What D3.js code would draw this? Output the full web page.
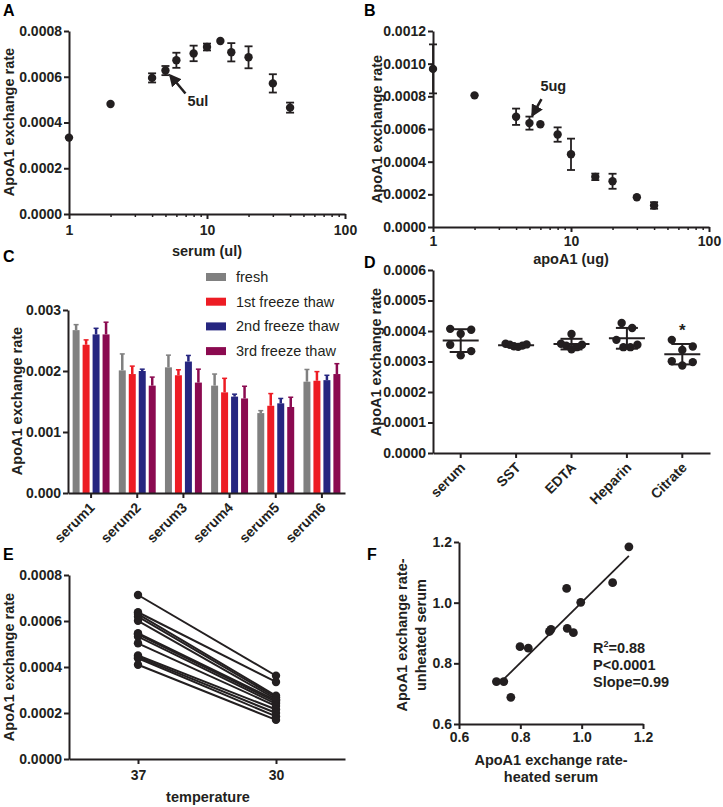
<!DOCTYPE html>
<html>
<head>
<meta charset="utf-8">
<script src="https://cdn.jsdelivr.net/npm/d3@7"></script>
<style>
body { margin: 0; background: #fff; }
svg { display: block; font-family: "Liberation Sans", Arial, sans-serif; }
.axis path, .axis line { stroke: #231f20; stroke-width: 2; }
.axis text { font-size: 14px; font-weight: bold; fill: #231f20; font-family: "Liberation Sans", Arial, sans-serif; }
.minor line { stroke-width: 1.5; }
.title { font-size: 14.5px; font-weight: bold; fill: #231f20; }
.panel { font-size: 16px; font-weight: bold; fill: #000; }
.legend text { font-size: 14.5px; fill: #231f20; }
</style>
</head>
<body>
<svg id="fig" width="723" height="807"></svg>
<script>
// A: serum titration
const aSerum = [1, 2, 4, 5, 6, 8, 10, 12.5, 15, 20, 30, 40];
const aRate  = [0.000334, 0.000481, 0.000595, 0.000627, 0.000672, 0.000702, 0.00073, 0.000756, 0.000707, 0.000685, 0.000571, 0.000465];
const aErr   = [0, 0, 0.00002, 0.00002, 0.000033, 0.000034, 0.000015, 0, 0.00004, 0.000048, 0.00004, 0.000022];

// B: apoA1 titration
const bApoA1 = [1, 2, 4, 5, 6, 8, 10, 15, 20, 30, 40];
const bRate  = [0.000968, 0.000806, 0.000675, 0.000636, 0.000629, 0.000566, 0.000445, 0.000307, 0.00028, 0.000182, 0.000132];
const bErr   = [0.00015, 0, 0.00005, 0.00004, 0, 0.000044, 0.000096, 0.00002, 0.000046, 0, 0.00002];

// C: freeze thaw
const cCategories = ['serum1', 'serum2', 'serum3', 'serum4', 'serum5', 'serum6'];
const cSeries = ['fresh', '1st freeze thaw', '2nd freeze thaw', '3rd freeze thaw'];
const cFresh    = [0.00267, 0.00201, 0.00206, 0.00176, 0.00131, 0.001825];
const cFreshErr = [0.00009, 0.00027, 0.0002, 0.00019, 0.00004, 0.0002];
const cThaw1    = [0.00243, 0.00195, 0.00193, 0.00165, 0.00143, 0.00184];
const cThaw1Err = [0.00008, 0.00013, 0.00009, 0.00023, 0.0002, 0.00015];
const cThaw2    = [0.0026, 0.002, 0.002155, 0.00158, 0.00147, 0.00185];
const cThaw2Err = [0.0001, 0.00003, 0.0001, 0.00004, 0.00008, 0.00008];
const cThaw3    = [0.0026, 0.00176, 0.00181, 0.00155, 0.00141, 0.00195];
const cThaw3Err = [0.0002, 0.00014, 0.00022, 0.0002, 0.00016, 0.00017];
const cColors = ['#808080', '#ed1c24', '#262680', '#8b0a50'];

// D: tube types
const dGroups  = ['serum', 'SST', 'EDTA', 'Heparin', 'Citrate'];
const dSerum   = [0.000407, 0.000404, 0.000391, 0.000355, 0.000334, 0.00032];
const dSST     = [0.000358, 0.000355, 0.000352, 0.00035, 0.000348, 0.000356];
const dEDTA    = [0.00039, 0.000358, 0.000352, 0.000347, 0.000355, 0.00034];
const dHeparin = [0.000426, 0.00041, 0.000371, 0.000355, 0.000347, 0.000347];
const dCitrate = [0.000371, 0.000349, 0.000338, 0.000301, 0.000298, 0.000287];

// E: temperature
const eTemps = ['37', '30'];
const e37 = [0.000713, 0.000638, 0.00063, 0.000619, 0.000601, 0.000547, 0.000542, 0.000532, 0.000503, 0.00045, 0.000444, 0.000438, 0.00041];
const e30 = [0.000362, 0.000335, 0.000275, 0.000268, 0.00026, 0.000255, 0.000248, 0.00024, 0.00023, 0.000215, 0.0002, 0.000185, 0.00017];

// F: heated vs unheated
const fHeated   = [0.722, 0.746, 0.769, 0.799, 0.826, 0.895, 0.900, 0.953, 0.973, 0.951, 0.997, 1.101, 1.154];
const fUnheated = [0.740, 0.740, 0.688, 0.855, 0.850, 0.905, 0.912, 0.915, 0.901, 1.047, 1.001, 1.066, 1.184];

const ink = '#231f20';
const svg = d3.select('#fig');

function panelLabel(t, x, y) {
  svg.append('text').attr('class', 'panel').attr('x', x).attr('y', y).text(t);
}
function yTitle(lines, x, y, gap) {
  const t = svg.append('text').attr('class', 'title')
    .attr('transform', `translate(${x},${y}) rotate(-90)`)
    .attr('text-anchor', 'middle');
  lines.forEach((l, i) => t.append('tspan').attr('x', 0).attr('y', i * (gap || 0)).attr('dy', '0.35em').text(l));
}
function xTitle(lines, x, y, gap) {
  const t = svg.append('text').attr('class', 'title').attr('text-anchor', 'middle');
  lines.forEach((l, i) => t.append('tspan').attr('x', x).attr('y', y + i * (gap || 0)).attr('dy', '0.35em').text(l));
}
function leftAxis(y, x0, ticks, fmt) {
  svg.append('g').attr('class', 'axis').attr('transform', `translate(${x0},0)`)
    .call(d3.axisLeft(y).tickValues(ticks).tickFormat(d3.format(fmt)).tickSize(5).tickSizeOuter(0).tickPadding(2));
}
function logBottom(x, y0, pad) {
  svg.append('g').attr('class', 'axis').attr('transform', `translate(0,${y0})`)
    .call(d3.axisBottom(x).tickValues([1, 10, 100]).tickFormat(d3.format('d')).tickSize(5).tickSizeOuter(0).tickPadding(pad));
  const minor = [2, 3, 4, 5, 6, 7, 8, 9, 20, 30, 40, 50, 60, 70, 80, 90];
  svg.append('g').attr('class', 'axis minor').attr('transform', `translate(0,${y0})`)
    .call(d3.axisBottom(x).tickValues(minor).tickFormat('').tickSize(3).tickSizeOuter(0))
    .select('.domain').remove();
}
function errDots(xs, ys, es, x, y) {
  const g = svg.append('g');
  xs.forEach((v, i) => {
    if (es[i] > 0) {
      const cx = x(v), t = y(ys[i] + es[i]), b = y(ys[i] - es[i]);
      g.append('line').attr('x1', cx).attr('x2', cx).attr('y1', t).attr('y2', b).attr('stroke', ink).attr('stroke-width', 1.8);
      [t, b].forEach(yy => g.append('line').attr('x1', cx - 4).attr('x2', cx + 4).attr('y1', yy).attr('y2', yy).attr('stroke', ink).attr('stroke-width', 1.8));
    }
    g.append('circle').attr('cx', x(v)).attr('cy', y(ys[i])).attr('r', 4.2).attr('fill', ink);
  });
}
svg.append('defs').append('marker').attr('id', 'arr').attr('viewBox', '0 0 10 10')
  .attr('refX', 8).attr('refY', 5).attr('markerWidth', 5).attr('markerHeight', 5).attr('orient', 'auto')
  .append('path').attr('d', 'M0,0 L10,5 L0,10 z').attr('fill', ink);
function arrow(tx, ty, hx, hy) {
  svg.append('line').attr('x1', tx).attr('y1', ty).attr('x2', hx).attr('y2', hy)
    .attr('stroke', ink).attr('stroke-width', 2.5).attr('marker-end', 'url(#arr)');
}
function slantLabels(ax, dx, dy) {
  ax.selectAll('.tick text').attr('text-anchor', 'end').attr('dy', '0.35em')
    .attr('transform', `translate(${dx},${dy}) rotate(-45)`).attr('y', 0).attr('x', 0);
}

// ---------- A ----------
{
  const x = d3.scaleLog().domain([1, 100]).range([69, 345]);
  const y = d3.scaleLinear().domain([0, 0.0008]).range([214, 31]);
  leftAxis(y, 69, d3.range(0, 0.00081, 0.0002), '.4f');
  logBottom(x, 214, 6);
  errDots(aSerum, aRate, aErr, x, y);
  const px = x(5), py = y(aRate[3]);
  arrow(px + 20, py + 23, px + 5, py + 5);
  svg.append('text').attr('class', 'title').attr('x', px + 22).attr('y', py + 35).text('5ul');
  panelLabel('A', 3, 16);
  yTitle(['ApoA1 exchange rate'], 9, 122);
  xTitle(['serum (ul)'], 207, 251);
}

// ---------- B ----------
{
  const x = d3.scaleLog().domain([1, 100]).range([433, 709]);
  const y = d3.scaleLinear().domain([0, 0.0012]).range([227, 31]);
  leftAxis(y, 433, d3.range(0, 0.00121, 0.0002), '.4f');
  logBottom(x, 227, 4);
  errDots(bApoA1, bRate, bErr, x, y);
  const px = x(5), py = y(bRate[3]);
  arrow(px + 12, py - 24, px + 3, py - 8);
  svg.append('text').attr('class', 'title').attr('x', px + 11).attr('y', py - 32).text('5ug');
  panelLabel('B', 364, 16);
  yTitle(['ApoA1 exchange rate'], 377, 129);
  xTitle(['apoA1 (ug)'], 571, 259);
}

// ---------- C ----------
{
  const x0 = d3.scaleBand().domain(cCategories).range([68, 345]).paddingInner(0.2).paddingOuter(0.1);
  const x1 = d3.scaleBand().domain(cSeries).range([0, x0.bandwidth()]).paddingInner(0.3);
  const y = d3.scaleLinear().domain([0, 0.003]).range([493, 310]);
  const vals = [cFresh, cThaw1, cThaw2, cThaw3];
  const errs = [cFreshErr, cThaw1Err, cThaw2Err, cThaw3Err];
  cSeries.forEach((s, si) => {
    const g = svg.append('g').attr('fill', cColors[si]).attr('stroke', cColors[si]);
    cCategories.forEach((c, ci) => {
      const bx = x0(c) + x1(s), v = vals[si][ci], e = errs[si][ci];
      const cx = bx + x1.bandwidth() / 2;
      g.append('line').attr('x1', cx).attr('x2', cx).attr('y1', y(v)).attr('y2', y(v + e)).attr('stroke-width', 2.5);
      g.append('line').attr('x1', cx - 2.5).attr('x2', cx + 2.5).attr('y1', y(v + e)).attr('y2', y(v + e)).attr('stroke-width', 1.5);
      g.append('rect').attr('x', bx).attr('y', y(v)).attr('width', x1.bandwidth()).attr('height', y(0) - y(v)).attr('stroke', 'none');
    });
  });
  leftAxis(y, 68, [0, 0.001, 0.002, 0.003], '.3f');
  const ax = svg.append('g').attr('class', 'axis').attr('transform', 'translate(0,493)')
    .call(d3.axisBottom(x0).tickSize(5).tickSizeOuter(0));
  slantLabels(ax, 1, 12);
  const lg = svg.append('g').attr('class', 'legend');
  cSeries.forEach((s, i) => {
    const ly = 277 + i * 24.7;
    lg.append('rect').attr('x', 206).attr('y', ly - 4).attr('width', 20).attr('height', 8).attr('fill', cColors[i]);
    lg.append('text').attr('x', 236).attr('y', ly).attr('dy', '0.35em').text(s);
  });
  panelLabel('C', 3, 262);
  yTitle(['ApoA1 exchange rate'], 17, 401);
}

// ---------- D ----------
{
  const x = d3.scaleBand().domain(dGroups).range([433, 710]);
  const y = d3.scaleLinear().domain([0, 0.0006]).range([453, 270]);
  const sets = [dSerum, dSST, dEDTA, dHeparin, dCitrate];
  // spread overlapping dots sideways in rows
  function swarm(vals) {
    const idx = d3.range(vals.length).sort((a, b) => vals[b] - vals[a]);
    const rows = []; let cur = [];
    idx.forEach(i => {
      if (cur.length && y(vals[i]) - y(vals[cur[cur.length - 1]]) > 8.5) { rows.push(cur); cur = []; }
      cur.push(i);
    });
    rows.push(cur);
    const off = vals.map(() => 0);
    rows.forEach(r => {
      const n = r.length;
      if (n === 1) return;
      const s = Math.min(10.5, 21 / (n - 1));
      const slots = d3.range(n).map(k => (k - (n - 1) / 2) * s)
        .sort((a, b) => Math.abs(b) - Math.abs(a) || a - b);
      r.forEach((i, k) => off[i] = slots[k]);
    });
    return off;
  }
  sets.forEach((vals, gi) => {
    const cx = x(dGroups[gi]) + x.bandwidth() / 2;
    const m = d3.mean(vals), sd = d3.deviation(vals);
    const g = svg.append('g');
    const off = swarm(vals);
    vals.forEach((v, i) => g.append('circle').attr('cx', cx + off[i]).attr('cy', y(v)).attr('r', 4.2).attr('fill', ink));
    g.append('line').attr('x1', cx - 18).attr('x2', cx + 18).attr('y1', y(m)).attr('y2', y(m)).attr('stroke', ink).attr('stroke-width', 2);
    g.append('line').attr('x1', cx).attr('x2', cx).attr('y1', y(m - sd)).attr('y2', y(m + sd)).attr('stroke', ink).attr('stroke-width', 2);
    [m - sd, m + sd].forEach(v => g.append('line').attr('x1', cx - 11).attr('x2', cx + 11).attr('y1', y(v)).attr('y2', y(v)).attr('stroke', ink).attr('stroke-width', 2));
    if (dGroups[gi] === 'Citrate') {
      svg.append('text').attr('class', 'title').attr('text-anchor', 'middle')
        .attr('x', cx).attr('y', y(d3.max(vals)) - 4).style('font-size', '17px').text('*');
    }
  });
  leftAxis(y, 433, d3.range(0, 0.00061, 0.0001), '.4f');
  const ax = svg.append('g').attr('class', 'axis').attr('transform', 'translate(0,453)')
    .call(d3.axisBottom(x).tickSize(5).tickSizeOuter(0));
  slantLabels(ax, 2, 12);
  panelLabel('D', 364, 268);
  yTitle(['ApoA1 exchange rate'], 376, 362);
}

// ---------- E ----------
{
  const x = d3.scalePoint().domain(eTemps).range([69, 345]).padding(0.5);
  const y = d3.scaleLinear().domain([0, 0.0008]).range([759, 575]);
  const g = svg.append('g');
  e37.forEach((v, i) => {
    g.append('line').attr('x1', x('37')).attr('x2', x('30')).attr('y1', y(v)).attr('y2', y(e30[i]))
      .attr('stroke', ink).attr('stroke-width', 2);
  });
  e37.forEach(v => g.append('circle').attr('cx', x('37')).attr('cy', y(v)).attr('r', 4.2).attr('fill', ink));
  e30.forEach(v => g.append('circle').attr('cx', x('30')).attr('cy', y(v)).attr('r', 4.2).attr('fill', ink));
  leftAxis(y, 69, d3.range(0, 0.00081, 0.0002), '.4f');
  svg.append('g').attr('class', 'axis').attr('transform', 'translate(0,759)')
    .call(d3.axisBottom(x).tickSize(5).tickSizeOuter(0).tickPadding(6));
  panelLabel('E', 3, 560);
  yTitle(['ApoA1 exchange rate'], 9, 667);
  xTitle(['temperature'], 208, 797);
}

// ---------- F ----------
{
  const x = d3.scaleLinear().domain([0.6, 1.2]).range([459, 643]);
  const y = d3.scaleLinear().domain([0.6, 1.2]).range([724, 542]);
  const mx = d3.mean(fHeated), my = d3.mean(fUnheated);
  const slope = d3.sum(fHeated, (v, i) => (v - mx) * (fUnheated[i] - my)) / d3.sum(fHeated, v => (v - mx) ** 2);
  const [xa, xb] = d3.extent(fHeated);
  const fit = v => my + slope * (v - mx);
  svg.append('line').attr('x1', x(xa + 0.02)).attr('x2', x(xb)).attr('y1', y(fit(xa + 0.02))).attr('y2', y(fit(xb)))
    .attr('stroke', ink).attr('stroke-width', 1.8);
  fHeated.forEach((v, i) => svg.append('circle').attr('cx', x(v)).attr('cy', y(fUnheated[i])).attr('r', 4.4).attr('fill', ink));
  svg.append('g').attr('class', 'axis').attr('transform', 'translate(459,0)')
    .call(d3.axisLeft(y).tickValues([0.6, 0.8, 1.0, 1.2]).tickFormat(d3.format('.1f')).tickSize(5).tickSizeOuter(0).tickPadding(2));
  svg.append('g').attr('class', 'axis').attr('transform', 'translate(0,724)')
    .call(d3.axisBottom(x).tickValues([0.6, 0.8, 1.0, 1.2]).tickFormat(d3.format('.1f')).tickSize(5).tickSizeOuter(0).tickPadding(3));
  const st = svg.append('text').attr('class', 'title').attr('x', 593).attr('y', 653);
  st.append('tspan').text('R');
  st.append('tspan').attr('dy', -6).style('font-size', '9px').text('2');
  st.append('tspan').attr('dy', 6).text('=0.88');
  svg.append('text').attr('class', 'title').attr('x', 593).attr('y', 670).text('P<0.0001');
  svg.append('text').attr('class', 'title').attr('x', 593).attr('y', 687).text('Slope=0.99');
  panelLabel('F', 367, 560);
  yTitle(['ApoA1 exchange rate-', 'unheated serum'], 402, 635, 18.5);
  xTitle(['ApoA1 exchange rate-', 'heated serum'], 551, 760, 17);
}
</script>
</body>
</html>
